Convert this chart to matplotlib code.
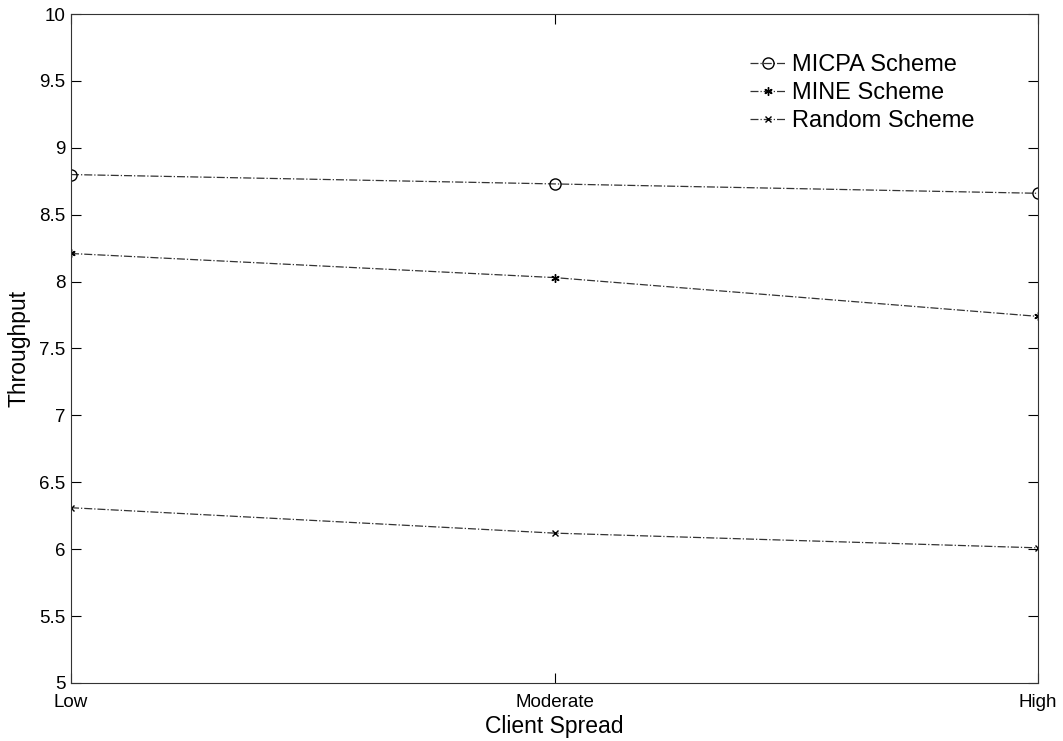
import matplotlib
matplotlib.use("Agg")
from matplotlib import pyplot as plt

# data
spread = ["Low", "Moderate", "High"]
micpa = [8.80, 8.73, 8.66]
mine = [8.21, 8.03, 7.74]
rand_scheme = [6.31, 6.12, 6.01]

plt.rcParams['font.family'] = ['Liberation Sans', 'DejaVu Sans']

fig = plt.figure(figsize=(10.63, 7.41), dpi=100)
ax = fig.add_axes([0.0668, 0.0783, 0.9097, 0.9028])

x = range(len(spread))
ax.plot(x, micpa, color='#333333', linestyle='-.', linewidth=0.9,
        marker='o', markersize=8, markerfacecolor='none', markeredgecolor='black',
        label='MICPA Scheme')
ax.plot(x, mine, color='#333333', linestyle='-.', linewidth=0.9,
        marker=(6, 2, 0), markersize=6, markeredgecolor='black',
        label='MINE Scheme')
ax.plot(x, rand_scheme, color='#333333', linestyle='-.', linewidth=0.9,
        marker='x', markersize=4, markeredgecolor='black',
        label='Random Scheme')

ax.set_xlim(0, 2)
ax.set_ylim(5, 10)
ax.set_xticks(list(x))
ax.set_xticklabels(spread)
ax.set_yticks([5, 5.5, 6, 6.5, 7, 7.5, 8, 8.5, 9, 9.5, 10])
ax.set_yticklabels(['5', '5.5', '6', '6.5', '7', '7.5', '8', '8.5', '9', '9.5', '10'])
ax.tick_params(direction='in', top=True, right=True, labelsize=13.5, length=7,
               width=0.8)
ax.tick_params(axis='x', pad=8)
ax.tick_params(axis='y', pad=4)
for s in ax.spines.values():
    s.set_linewidth(0.8)
    s.set_color('#333333')

ax.set_xlabel("Client Spread", fontsize=16.5, labelpad=3)
ax.set_ylabel("Throughput", fontsize=16.5, labelpad=6)

ax.legend(loc='upper left', bbox_to_anchor=(0.702, 0.94), frameon=False,
          fontsize=17, handlelength=1.5, labelspacing=0.25, handletextpad=0.3,
          borderpad=0, borderaxespad=0)

plt.savefig("out.png", dpi=100)
